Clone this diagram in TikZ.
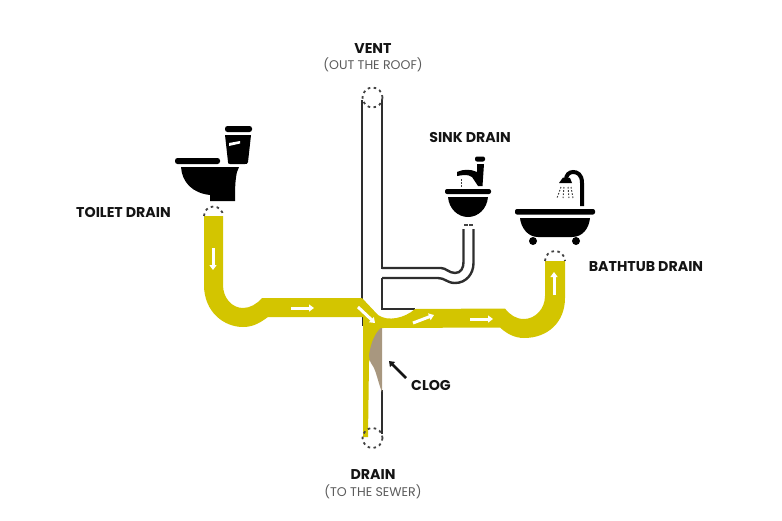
\documentclass[tikz,border=0pt]{standalone}
\usepackage{fontspec}
\setmainfont{Poppins}
\usetikzlibrary{arrows.meta}
\definecolor{pipeyellow}{HTML}{D3C500}
\definecolor{clogbrown}{HTML}{A8977F}
\definecolor{ink}{HTML}{141414}
\definecolor{wallgrey}{HTML}{2E2E2E}
\tikzset{
 boldlabel/.style={font=\fontsize{14.2}{15}\selectfont\bfseries,text=ink,inner sep=0pt},
 thinlabel/.style={font=\fontsize{12.6}{14}\selectfont,text=ink!70,inner sep=0pt},
 wall/.style={draw=wallgrey,line width=2pt},
 sinkwall/.style={draw=wallgrey,line width=2.4pt},
 flow/.style={draw=white,line width=3pt,-{Triangle[length=5pt,width=7pt]}},
 opening/.style={draw=ink!80,line width=1.8pt,dash pattern=on 2.6pt off 3.4pt},
 icon/.style={fill=black,draw=none},
 iconline/.style={draw=black,line cap=round},
 droplet/.style={draw=black!75,line width=1pt,dash pattern=on 1.6pt off 1.6pt}
}
\begin{document}
\begin{tikzpicture}[x=1pt,y=-1pt]
\useasboundingbox (0,0) rectangle (782,520);
% vent walls
\draw[wall] (362,100) -- (362,300);
\draw[wall] (382,100) -- (382,268) -- (441,268);
\draw[wall] (382,278) -- (382,309) -- (415,309);
\draw[wall] (382,390) -- (382,434);
\draw[wall] (363,316) -- (363,326);
% sink branch
\draw[sinkwall] (382,278) -- (438,278) .. controls (445,278) and (447,283) .. (455,283)
  .. controls (466,283) and (473.5,274) .. (473.5,263) -- (473.5,229);
\draw[sinkwall] (382,268) -- (441,268) .. controls (446,268) and (449,273) .. (455,273)
  .. controls (461,273) and (463.5,268) .. (463.5,262) -- (463.5,229);
% water
\fill[pipeyellow] (204,216) -- (204,285) .. controls (204,312) and (224,327) .. (243,327)
  .. controls (254,327) and (261,322) .. (268,317) -- (363,317) -- (363,437) -- (368,437)
  -- (369,362) -- (382,328) -- (500,327.5) .. controls (507,334) and (515,338) .. (524,338)
  .. controls (548,338) and (565,322) .. (565,298) -- (565,261) -- (545,261) -- (545,296)
  .. controls (545,309) and (535,319) .. (524,319) .. controls (516,319) and (510,315) .. (505,308.5)
  -- (415,309) .. controls (405,318) and (388,322) .. (378,315) -- (362,298) -- (262,298)
  .. controls (257,304) and (250,308) .. (243,308) .. controls (232,308) and (223,298) .. (223,285)
  -- (223,216) -- cycle;
% clog
\fill[clogbrown] (381,328) .. controls (375,333) and (371,342) .. (369,355)
  .. controls (369,362) and (372,364) .. (374,368) .. controls (377,375) and (379,385) .. (382,392) -- (382,328) -- cycle;
% openings
\draw[opening] (372.5,97.5) circle[radius=10];
\draw[opening] (372.5,438) circle[radius=10];
\draw[opening] (204,216) arc[start angle=180,end angle=360,radius=9.5];
\draw[opening] (545,261) arc[start angle=180,end angle=360,radius=10];
\draw[ink!80,line width=1.8pt,dash pattern=on 4pt off 1pt] (464,225) -- (473,225);
% flow arrows
\coordinate (f1a) at (213,248); \coordinate (f1b) at (213,270);
\coordinate (f2a) at (291,308); \coordinate (f2b) at (314,308);
\coordinate (f3a) at (358,307); \coordinate (f3b) at (375,323);
\coordinate (f4a) at (413,323); \coordinate (f4b) at (434,315);
\coordinate (f5a) at (470,319); \coordinate (f5b) at (493,319);
\coordinate (f6a) at (554,295); \coordinate (f6b) at (554,272);
\draw[flow] (f1a) -- (f1b);
\draw[flow] (f2a) -- (f2b);
\draw[flow] (f3a) -- (f3b);
\draw[flow] (f4a) -- (f4b);
\draw[flow] (f5a) -- (f5b);
\draw[flow] (f6a) -- (f6b);
% toilet
\fill[icon,rounded corners=2.5pt] (225,126) rectangle (252,132);
\fill[icon] (225,135) -- (251,135) -- (248,162) .. controls (248,164) and (246,164) .. (245,164) -- (230,164) .. controls (228,164) and (228,163) .. (228,162) -- cycle;
\fill[white] (229,143) -- (240,141) -- (240,143.5) -- (229,146) -- cycle;
\fill[icon,rounded corners=2.5pt] (175,158) rectangle (220,164);
\fill[icon] (181,167) -- (239,167) -- (237,172) .. controls (235,180) and (235,192) .. (235,201)
 -- (210,201) -- (210,195) .. controls (192,193) and (182,182) .. (181,167) -- cycle;
% sink
\fill[icon,rounded corners=2pt] (475,156.5) rectangle (485,161.5);
\fill[icon] (477,164) -- (484,164) -- (482.5,186) -- (478,186) -- (472,177) .. controls (468,174) and (463,175) .. (457,176) -- (457,172) .. controls (463,169) and (471,169) .. (477,172) -- cycle;
\draw[droplet] (461,179) -- (461,187);
\fill[icon,rounded corners=2pt] (445,189) rectangle (491,194);
\fill[icon] (448,197) -- (488,197) .. controls (487,209) and (478,217) .. (468,217) .. controls (458,217) and (449,209) .. (448,197) -- cycle;
% bathtub
\fill[icon,rounded corners=2pt] (515,209) rectangle (595,214.5);
\fill[icon] (520,218) -- (590,218) .. controls (589,228) and (583,237) .. (572,237) -- (538,237) .. controls (528,237) and (521,228) .. (520,218) -- cycle;
\fill[icon] (533,241) circle[radius=4];
\fill[icon] (576,241) circle[radius=4];
\draw[iconline,line width=4pt,line cap=butt] (582,206) -- (582,183) .. controls (582,174) and (577,172) .. (573,172) .. controls (569,172) and (566,175) .. (566,180);
\fill[icon] (559,183) -- (572,183) -- (570,178) -- (563,177.5) -- cycle;
\draw[droplet] (561,187) -- (557,198);
\draw[droplet] (564,187) -- (563,198);
\draw[droplet] (568,187) -- (569,198);
\draw[droplet] (571,187) -- (573,198);
% labels
\node[boldlabel] (ventTitle) at (373,48.7) {VENT};
\node[thinlabel] (ventNote) at (373,64.5) {(OUT THE ROOF)};
\node[boldlabel] (sinkLabel) at (470,137.7) {SINK DRAIN};
\node[boldlabel] (toiletLabel) at (123.5,212.7) {TOILET DRAIN};
\node[boldlabel] (tubLabel) at (646,266.7) {BATHTUB DRAIN};
\node[boldlabel] (clogLabel) at (431,385.7) {CLOG};
\node[boldlabel] (drainTitle) at (373,474.7) {DRAIN};
\node[thinlabel] (drainNote) at (373,491.5) {(TO THE SEWER)};
% clog pointer
\coordinate (clogTail) at (406,378);
\coordinate (clogHead) at (389,361);
\draw[draw=ink,line width=2.6pt,-{Triangle[length=5pt,width=7pt]}] (clogTail) -- (clogHead);
\end{tikzpicture}
\end{document}
